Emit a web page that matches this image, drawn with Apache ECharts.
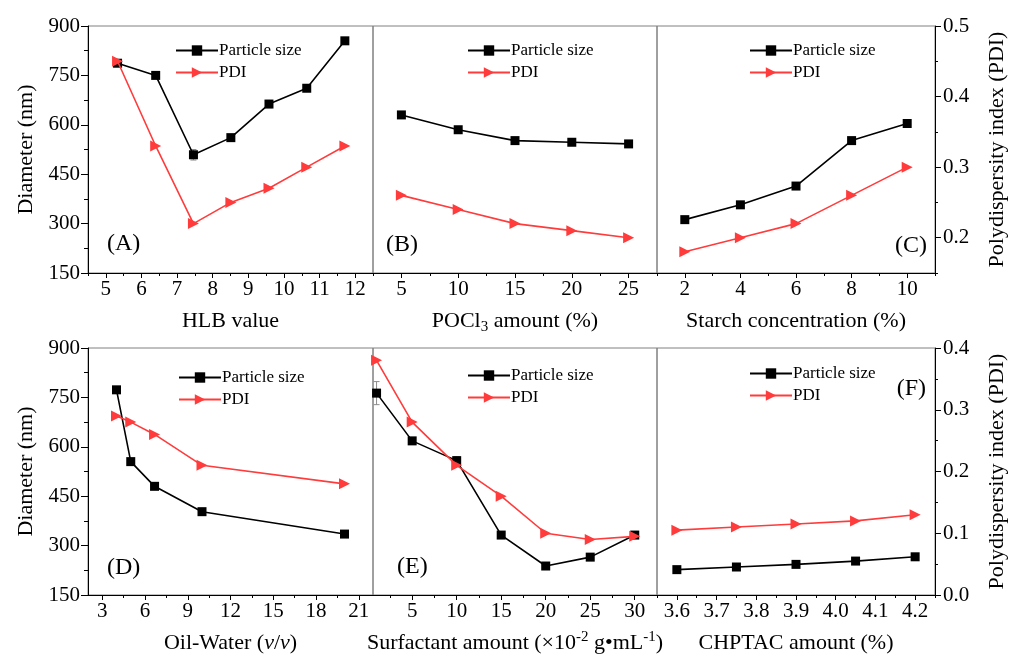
<!DOCTYPE html>
<html><head><meta charset="utf-8">
<script src="https://cdn.jsdelivr.net/npm/echarts@6/dist/echarts.min.js"></script>
<style>html,body{margin:0;padding:0;background:#fff}#c{width:1012px;height:659px}</style>
</head><body><div id="c"></div>
<script>
// ---------------- Data ----------------
const hlbValues = [5.33, 6.40, 7.46, 8.51, 9.58, 10.64, 11.71];
const hlbSize = [787, 750, 509, 561, 663, 711, 855];
const hlbSizeErr = [6, 5, 16, 8, 11, 6, 6];
const hlbPDI = [0.45, 0.33, 0.22, 0.25, 0.27, 0.30, 0.33];

const pocl3Amount = [5, 10, 15, 20, 25];
const pocl3Size = [630, 585, 552, 547, 542];
const pocl3SizeErr = [6, 5, 4, 4, 4];
const pocl3PDI = [0.26, 0.24, 0.22, 0.21, 0.20];

const starchConc = [2, 4, 6, 8, 10];
const starchSize = [312, 357, 414, 552, 604];
const starchSizeErr = [5, 5, 5, 6, 5];
const starchPDI = [0.18, 0.20, 0.22, 0.26, 0.30];

const oilWater = [4, 5, 6.67, 10, 20];
const oilWaterSize = [773, 555, 480, 403, 335];
const oilWaterSizeErr = [6, 5, 5, 6, 4];
const oilWaterPDI = [0.29, 0.28, 0.26, 0.21, 0.18];

const surfAmount = [1, 5, 10, 15, 20, 25, 30];
const surfSize = [763, 618, 558, 332, 238, 265, 332];
const surfSizeErr = [35, 6, 12, 5, 6, 5, 5];
const surfPDI = [0.38, 0.28, 0.21, 0.16, 0.10, 0.09, 0.095];

const chptacAmount = [3.6, 3.75, 3.9, 4.05, 4.2];
const chptacSize = [227, 235, 243, 253, 266];
const chptacSizeErr = [4, 4, 4, 4, 4];
const chptacPDI = [0.105, 0.11, 0.115, 0.12, 0.13];

// ---------------- Tick labels ----------------
const diameterTicks = [150, 300, 450, 600, 750, 900];
const diameterMinor = [225, 375, 525, 675, 825];
const pdiTicksTop = [0.2, 0.3, 0.4, 0.5];
const pdiMinorTop = [0.15, 0.25, 0.35, 0.45];
const pdiTicksBottom = [0.0, 0.1, 0.2, 0.3, 0.4];
const pdiMinorBottom = [0.05, 0.15, 0.25, 0.35];
const hlbTicks = [5, 6, 7, 8, 9, 10, 11, 12];
const hlbMinor = [4.5, 5.5, 6.5, 7.5, 8.5, 9.5, 10.5, 11.5, 12.5];
const pocl3Ticks = [5, 10, 15, 20, 25];
const pocl3Minor = [2.5, 7.5, 12.5, 17.5, 22.5, 27.5];
const starchTicks = [2, 4, 6, 8, 10];
const starchMinor = [1, 3, 5, 7, 9, 11];
const oilWaterTicks = [3, 6, 9, 12, 15, 18, 21];
const oilWaterMinor = [4.5, 7.5, 10.5, 13.5, 16.5, 19.5];
const surfTicks = [5, 10, 15, 20, 25, 30];
const surfMinor = [2.5, 7.5, 12.5, 17.5, 22.5, 27.5, 32.5];
const chptacTicks = [3.6, 3.7, 3.8, 3.9, 4.0, 4.1, 4.2];
const chptacMinor = [3.55, 3.65, 3.75, 3.85, 3.95, 4.05, 4.15, 4.25];

// ---------------- Styling / layout ----------------
const FONT = '"Liberation Serif", "DejaVu Serif", serif';
const RED = '#ff3b3b';
const colLeft = [88, 373, 657];
const colWidth = [285, 284, 286];
const rowTop = [26, 348];
const rowHeight = 247;

const richName = {
  sub: {fontFamily: FONT, fontSize: 15, lineHeight: 15, verticalAlign: 'bottom', color: '#000'},
  sup: {fontFamily: FONT, fontSize: 15, lineHeight: 15, verticalAlign: 'top', color: '#000'},
  it: {fontFamily: FONT, fontSize: 22, lineHeight: 27, fontStyle: 'italic', verticalAlign: 'middle', color: '#000'},
  n: {fontFamily: FONT, fontSize: 22, lineHeight: 27, verticalAlign: 'middle', color: '#000'}
};
const nameStyle = {fontFamily: FONT, fontSize: 22, lineHeight: 27, color: '#000', rich: richName};

const intFmt = v => String(Math.round(v));
const oneFmt = v => Number(v).toFixed(1);

const panels = [
  {row: 0, col: 0, x: hlbValues, size: hlbSize, err: hlbSizeErr, pdi: hlbPDI, xMin: 4.5, xMax: 12.5,
   xMajor: hlbTicks, xMinor: hlbMinor, xFmt: intFmt, xName: '{n|HLB value}', letter: '(A)'},
  {row: 0, col: 1, x: pocl3Amount, size: pocl3Size, err: pocl3SizeErr, pdi: pocl3PDI, xMin: 2.5, xMax: 27.5,
   xMajor: pocl3Ticks, xMinor: pocl3Minor, xFmt: intFmt, xName: '{n|POCl}{sub|3}{n| amount (%)}', letter: '(B)'},
  {row: 0, col: 2, x: starchConc, size: starchSize, err: starchSizeErr, pdi: starchPDI, xMin: 1, xMax: 11,
   xMajor: starchTicks, xMinor: starchMinor, xFmt: intFmt, xName: '{n|Starch concentration (%)}', letter: '(C)'},
  {row: 1, col: 0, x: oilWater, size: oilWaterSize, err: oilWaterSizeErr, pdi: oilWaterPDI, xMin: 2, xMax: 22,
   xMajor: oilWaterTicks, xMinor: oilWaterMinor, xFmt: intFmt, xName: '{n|Oil-Water (}{it|v}{n|/}{it|v}{n|)}', letter: '(D)'},
  {row: 1, col: 1, x: surfAmount, size: surfSize, err: surfSizeErr, pdi: surfPDI, xMin: 0.6, xMax: 32.5,
   xMajor: surfTicks, xMinor: surfMinor, xFmt: intFmt, xName: '{n|Surfactant amount (×10}{sup|-2}{n| g•mL}{sup|-1}{n|)}', letter: '(E)'},
  {row: 1, col: 2, x: chptacAmount, size: chptacSize, err: chptacSizeErr, pdi: chptacPDI, xMin: 3.55, xMax: 4.25,
   xMajor: chptacTicks, xMinor: chptacMinor, xFmt: oneFmt, xName: '{n|CHPTAC amount (%)}', letter: '(F)'}
];

const letterPos = [
  {left: 107, top: 232}, {left: 386, top: 233}, {right: 85, top: 234},
  {left: 107, top: 556}, {left: 397, top: 555}, {right: 86, top: 377}
];
const legendPos = [
  {left: 175, top: 42}, {left: 467, top: 42}, {left: 749, top: 42},
  {left: 178, top: 369}, {left: 467, top: 367}, {left: 749, top: 365}
];

const labelStyle = {fontFamily: FONT, fontSize: 21, color: '#000'};
const grids = [], xAxes = [], yAxes = [], series = [], legends = [], graphics = [];

panels.forEach((p, i) => {
  grids.push({left: colLeft[p.col], top: rowTop[p.row], width: colWidth[p.col], height: rowHeight,
    show: true, borderColor: '#808080', borderWidth: 1, backgroundColor: 'transparent'});

  xAxes.push({
    gridIndex: i, type: 'value', position: 'bottom', min: p.xMin, max: p.xMax,
    name: p.xName, nameLocation: 'middle', nameGap: 35, nameTextStyle: nameStyle,
    axisLine: {show: true, onZero: false, lineStyle: {color: '#000', width: 1}},
    axisTick: {show: true, customValues: p.xMajor, length: 5, lineStyle: {color: '#000', width: 1}},
    axisLabel: Object.assign({show: true, customValues: p.xMajor, margin: 6, formatter: p.xFmt}, labelStyle),
    splitLine: {show: false}
  });
  xAxes.push({
    gridIndex: i, type: 'value', position: 'bottom', min: p.xMin, max: p.xMax,
    axisLine: {show: false}, axisLabel: {show: false}, splitLine: {show: false},
    axisTick: {show: true, customValues: p.xMinor, length: 3, lineStyle: {color: '#000', width: 1}}
  });

  const pMin = p.row === 0 ? 0.15 : 0;
  const pMax = p.row === 0 ? 0.5 : 0.4;
  const pMaj = p.row === 0 ? pdiTicksTop : pdiTicksBottom;
  const pMinr = p.row === 0 ? pdiMinorTop : pdiMinorBottom;

  if (p.col === 0) {
    yAxes.push({
      gridIndex: i, type: 'value', position: 'left', min: 150, max: 900,
      name: '{n|Diameter (nm)}', nameLocation: 'middle', nameGap: 48, nameTextStyle: nameStyle,
      axisLine: {show: true, lineStyle: {color: '#000', width: 1}},
      axisTick: {show: true, customValues: diameterTicks, length: 7, lineStyle: {color: '#000'}},
      axisLabel: Object.assign({customValues: diameterTicks, margin: 8, formatter: intFmt}, labelStyle),
      splitLine: {show: false}
    });
    yAxes.push({
      gridIndex: i, type: 'value', position: 'left', min: 150, max: 900,
      axisLine: {show: false}, axisLabel: {show: false}, splitLine: {show: false},
      axisTick: {show: true, customValues: diameterMinor, length: 4, lineStyle: {color: '#000'}}
    });
  } else {
    yAxes.push({gridIndex: i, type: 'value', position: 'left', min: 150, max: 900, show: false});
    yAxes.push({gridIndex: i, type: 'value', position: 'left', min: 150, max: 900, show: false});
  }
  if (p.col === 2) {
    yAxes.push({
      gridIndex: i, type: 'value', position: 'right', min: pMin, max: pMax,
      name: '{n|Polydispersity index (PDI)}', nameLocation: 'middle', nameGap: 49, nameTextStyle: nameStyle,
      axisLine: {show: true, lineStyle: {color: '#000', width: 1}},
      axisTick: {show: true, customValues: pMaj, length: 6, lineStyle: {color: '#000'}},
      axisLabel: Object.assign({customValues: pMaj, margin: 8, formatter: oneFmt}, labelStyle),
      splitLine: {show: false}
    });
    yAxes.push({
      gridIndex: i, type: 'value', position: 'right', min: pMin, max: pMax,
      axisLine: {show: false}, axisLabel: {show: false}, splitLine: {show: false},
      axisTick: {show: true, customValues: pMinr, length: 3, lineStyle: {color: '#000'}}
    });
  } else {
    yAxes.push({gridIndex: i, type: 'value', position: 'right', min: pMin, max: pMax, show: false});
    yAxes.push({gridIndex: i, type: 'value', position: 'right', min: pMin, max: pMax, show: false});
  }

  series.push({
    type: 'custom', name: 'error', xAxisIndex: 2 * i, yAxisIndex: 4 * i, z: 1, silent: true,
    data: p.x.map((v, k) => [v, p.size[k], p.err[k]]),
    renderItem: function (params, api) {
      const x = api.value(0), y = api.value(1), e = api.value(2);
      const t = api.coord([x, y + e]), b = api.coord([x, y - e]);
      const w = 3, st = {stroke: '#8c8c8c', lineWidth: 1};
      return {type: 'group', children: [
        {type: 'line', shape: {x1: t[0], y1: t[1], x2: b[0], y2: b[1]}, style: st},
        {type: 'line', shape: {x1: t[0] - w, y1: t[1], x2: t[0] + w, y2: t[1]}, style: st},
        {type: 'line', shape: {x1: b[0] - w, y1: b[1], x2: b[0] + w, y2: b[1]}, style: st}
      ]};
    }
  });
  series.push({
    type: 'line', name: 'Particle size', xAxisIndex: 2 * i, yAxisIndex: 4 * i, z: 3,
    data: p.x.map((v, k) => [v, p.size[k]]),
    symbol: 'rect', symbolSize: 9, showAllSymbol: true,
    lineStyle: {color: '#000', width: 1.6}, itemStyle: {color: '#000'}
  });
  series.push({
    type: 'line', name: 'PDI', xAxisIndex: 2 * i, yAxisIndex: 4 * i + 2, z: 4,
    data: p.x.map((v, k) => [v, p.pdi[k]]),
    symbol: 'triangle', symbolRotate: -90, symbolSize: 11, showAllSymbol: true,
    lineStyle: {color: RED, width: 1.6}, itemStyle: {color: RED}
  });

  legends.push(Object.assign({
    data: ['Particle size', 'PDI'], orient: 'vertical', padding: 0, itemGap: 5,
    itemWidth: 42, itemHeight: 13, selectedMode: false,
    textStyle: {fontFamily: FONT, fontSize: 17, color: '#000', padding: [0, 0, 0, -4]}
  }, legendPos[i]));

  graphics.push(Object.assign({
    type: 'text', style: {text: p.letter, fontFamily: FONT, fontSize: 24, fill: '#000'}
  }, letterPos[i]));
});

const chart = echarts.init(document.getElementById('c'), null, {renderer: 'canvas'});
chart.setOption({
  animation: false,
  backgroundColor: '#fff',
  grid: grids, xAxis: xAxes, yAxis: yAxes, series: series, legend: legends, graphic: graphics
});
</script></body></html>
